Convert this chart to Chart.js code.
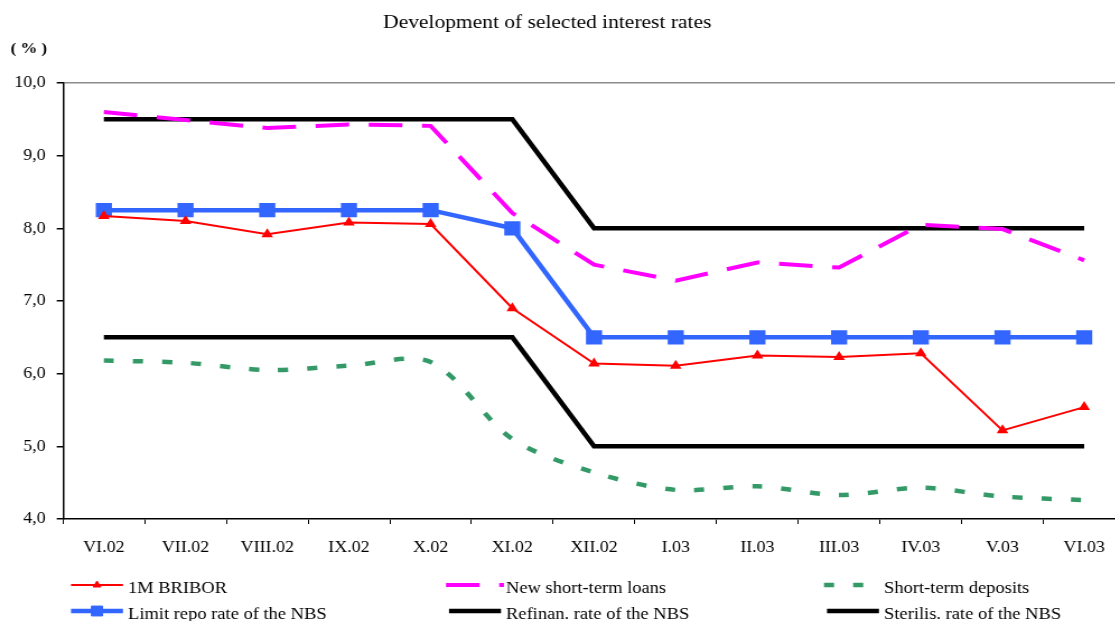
<!DOCTYPE html>
<html>
<head>
<meta charset="utf-8">
<title>Development of selected interest rates</title>
<script src="https://cdn.jsdelivr.net/npm/chart.js@4/dist/chart.umd.min.js"></script>
<style>
  html, body { margin: 0; padding: 0; background: #fff; overflow: hidden; }
  /* the whole figure is drawn a little narrow and widened by 12 % */
  #wrap {
    position: absolute; left: 0; top: 0;
    width: 1016px; height: 621px;
    transform: scaleX(1.12); transform-origin: 0 0;
  }
</style>
</head>
<body>
<div id="wrap"><canvas id="c" width="1016" height="621"></canvas></div>
<script>
// Months on the x axis
const categories = ['VI.02', 'VII.02', 'VIII.02', 'IX.02', 'X.02', 'XI.02', 'XII.02',
                    'I.03', 'II.03', 'III.03', 'IV.03', 'V.03', 'VI.03'];

// Interest rates in %
const bribor1M          = [8.17, 8.10, 7.92, 8.08, 8.06, 6.90, 6.14, 6.11, 6.25, 6.23, 6.28, 5.22, 5.54];
const newShortTermLoans = [9.60, 9.49, 9.38, 9.43, 9.41, 8.21, 7.50, 7.28, 7.53, 7.46, 8.05, 7.99, 7.56];
const shortTermDeposits = [6.18, 6.15, 6.05, 6.11, 6.16, 5.10, 4.64, 4.40, 4.45, 4.33, 4.43, 4.31, 4.26];
const limitRepoRate     = [8.25, 8.25, 8.25, 8.25, 8.25, 8.00, 6.50, 6.50, 6.50, 6.50, 6.50, 6.50, 6.50];
const refinanRate       = [9.50, 9.50, 9.50, 9.50, 9.50, 9.50, 8.00, 8.00, 8.00, 8.00, 8.00, 8.00, 8.00];
const sterilisRate      = [6.50, 6.50, 6.50, 6.50, 6.50, 6.50, 5.00, 5.00, 5.00, 5.00, 5.00, 5.00, 5.00];

// Value axis
const yMin = 4, yMax = 10, yStep = 1;

const seriesNames = ['1M BRIBOR', 'New short-term loans', 'Short-term deposits',
                     'Limit repo rate of the NBS', 'Refinan. rate of the NBS', 'Sterilis. rate of the NBS'];

const FONT = '"Liberation Serif", "Times New Roman", serif';
Chart.defaults.font.family = FONT;
Chart.defaults.color = '#000';

// Title, unit label and a three-column legend under the axis
const framePlugin = {
  id: 'frameText',
  afterDraw(chart) {
    const ctx = chart.ctx;
    ctx.save();
    ctx.fillStyle = '#000';
    ctx.textBaseline = 'alphabetic';

    ctx.font = '19.2px ' + FONT;
    ctx.textAlign = 'center';
    ctx.fillText('Development of selected interest rates', 488.6, 28);

    ctx.font = 'bold 15px ' + FONT;
    ctx.textAlign = 'left';
    ctx.fillText('( % )', 9.5, 53);

    const colX = [63.4, 400.9, 738.4];
    const rowLine = [585, 611];
    const rowText = [593, 618.5];
    ctx.font = '16.5px ' + FONT;
    chart.data.datasets.forEach((ds, i) => {
      const col = i % 3, row = Math.floor(i / 3);
      const dashed = ds.borderDash && ds.borderDash.length;
      const x0 = colX[col] - (dashed ? 2.7 : 0);
      const x1 = colX[col] + (dashed ? 49 : 46.4);
      const y = rowLine[row];
      ctx.save();
      ctx.strokeStyle = ds.borderColor;
      ctx.lineWidth = ds.borderWidth;
      ctx.lineCap = 'butt';
      ctx.setLineDash(dashed ? ds.borderDash : []);
      ctx.beginPath();
      ctx.moveTo(x0, y);
      ctx.lineTo(x1, y);
      ctx.stroke();
      ctx.restore();
      if (ds.pointRadius > 0) {
        ctx.save();
        ctx.fillStyle = ds.pointBackgroundColor;
        ctx.strokeStyle = ds.pointBorderColor;
        Chart.helpers.drawPoint(ctx, {
          pointStyle: ds.pointStyle, radius: ds.pointRadius, rotation: 0, borderWidth: 1
        }, (colX[col] + x1) / 2, y);
        ctx.restore();
      }
      ctx.fillStyle = '#000';
      ctx.fillText(ds.label, colX[col] + 50.9, rowText[row]);
    });
    ctx.restore();
  }
};

new Chart(document.getElementById('c'), {
  type: 'line',
  data: {
    labels: categories,
    datasets: [
      { label: seriesNames[0], data: bribor1M, borderColor: '#ff0000', borderWidth: 2,
        pointStyle: 'triangle', pointRadius: 4, pointBackgroundColor: '#ff0000', pointBorderColor: '#ff0000',
        tension: 0 },
      { label: seriesNames[1], data: newShortTermLoans, borderColor: '#ff00ff', borderWidth: 4,
        borderDash: [30, 17.5], pointRadius: 0, tension: 0 },
      { label: seriesNames[2], data: shortTermDeposits, borderColor: '#339966', borderWidth: 4.5,
        borderDash: [9, 17], pointRadius: 0, tension: 0.3 },
      { label: seriesNames[3], data: limitRepoRate, borderColor: '#3366ff', borderWidth: 4.5,
        pointStyle: 'rect', pointRadius: 7, pointBackgroundColor: '#3366ff', pointBorderColor: '#3366ff',
        tension: 0 },
      { label: seriesNames[4], data: refinanRate, borderColor: '#000000', borderWidth: 4.5,
        pointRadius: 0, tension: 0 },
      { label: seriesNames[5], data: sterilisRate, borderColor: '#000000', borderWidth: 4.5,
        pointRadius: 0, tension: 0 }
    ]
  },
  options: {
    responsive: false,
    animation: false,
    events: [],
    layout: { padding: { left: 0, right: 1.8, top: 83, bottom: 62 } },
    plugins: {
      legend: { display: false },
      title: { display: false },
      tooltip: { enabled: false }
    },
    scales: {
      x: {
        type: 'category',
        offset: true,
        grid: { offset: true, drawOnChartArea: false, drawTicks: true, tickLength: 5, tickColor: '#000', lineWidth: 1 },
        border: { display: true, color: '#000', width: 1.5 },
        ticks: { font: { size: 16 }, color: '#000', padding: 14, maxRotation: 0, autoSkip: false },
        afterFit(scale) { scale.height = 40; }
      },
      y: {
        min: yMin, max: yMax,
        grid: {
          drawOnChartArea: true, drawTicks: true, tickLength: 5.6, tickColor: '#000', lineWidth: 1.5,
          color: (c) => (c.tick && c.tick.value === yMax ? '#8c8c8c' : 'rgba(0,0,0,0)')
        },
        border: { display: true, color: '#000', width: 1.5 },
        ticks: {
          stepSize: yStep, font: { size: 16 }, color: '#000', padding: 10,
          callback: (v) => Number(v).toFixed(1).replace('.', ',')
        },
        afterFit(scale) { scale.width = 56.25; }
      }
    }
  },
  plugins: [framePlugin]
});
</script>
</body>
</html>
